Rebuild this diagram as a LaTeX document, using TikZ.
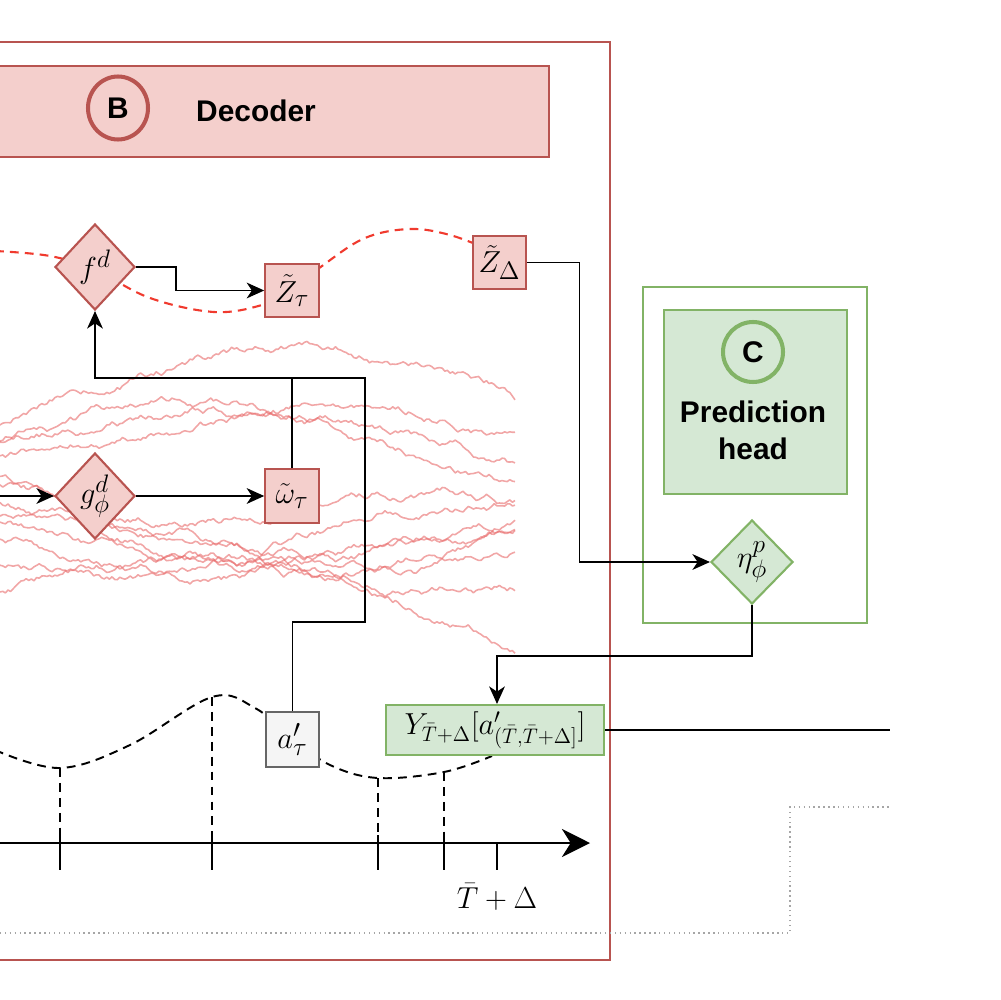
\documentclass[tikz,border=0pt]{standalone}
\usepackage{fontspec}
\newfontfamily\arialf{Liberation Sans}
\usetikzlibrary{shapes.geometric,arrows.meta}
\definecolor{rfill}{HTML}{F4CFCC}
\definecolor{rdraw}{HTML}{B85450}
\definecolor{gfill}{HTML}{D5E8D4}
\definecolor{gdraw}{HTML}{82B366}
\definecolor{noisec}{HTML}{E86A6A}
\definecolor{rdash}{HTML}{F03A2E}
\definecolor{agrey}{HTML}{F5F5F5}
\definecolor{adraw}{HTML}{666666}
\begin{document}
\begin{tikzpicture}[x=0.02cm,y=-0.02cm,
  mfont/.style={font=\fontsize{17}{20}\selectfont},
  nfont/.style={font=\fontsize{19}{22}\selectfont},
  bfont/.style={font=\arialf\bfseries\fontsize{17}{21}\selectfont},
  rbox/.style={draw=rdraw, fill=rfill, line width=1.2pt, minimum width=1.07cm, minimum height=1.07cm, inner sep=0pt, nfont},
  rdiam/.style={diamond, draw=rdraw, fill=rfill, line width=1.2pt, minimum width=1.6cm, minimum height=1.72cm, inner sep=0pt, nfont},
  gdiam/.style={diamond, draw=gdraw, fill=gfill, line width=1.2pt, minimum width=1.64cm, minimum height=1.68cm, inner sep=0pt, nfont},
  conn/.style={line width=0.75pt, -{Stealth[length=10pt,width=9pt,inset=3pt]}},
  plain/.style={line width=0.75pt},
  noise/.style={draw=noisec, opacity=0.6, line width=0.9pt, line join=round},
  rdashed/.style={draw=rdash, line width=1.2pt, dash pattern=on 5pt off 3.5pt},
  kdashed/.style={draw=black, line width=1.1pt, dash pattern=on 5pt off 3.5pt},
]
\useasboundingbox (0,0) rectangle (1000,1000);
\pgfmathsetseed{4242}

% outer decoder frame
\draw[rdraw, line width=1.2pt] (-10,42) rectangle (610,960);
% header
\draw[rdraw, fill=rfill, line width=1.2pt] (-10,66) rectangle (549,157);
\node[draw=rdraw, line width=2.3pt, ellipse, minimum width=1.2cm, minimum height=1.26cm, inner sep=0pt, bfont] (cb) at (118,108) {B};
\node[bfont] (dec) at (256,111) {Decoder};

% dotted gray line
\draw[gray!70, line width=0.8pt, dotted] (-10,933) -- (790,933) -- (790,807) -- (890,807);

% noisy paths (random walks around a slow trend)
\foreach \ys/\A/\f/\p in {425/-80/0.3/0, 445/30/0.5/180, 440/-40/0.35/0, 478/20/0.6/0, 482/-25/0.4/90, 510/30/0.3/0, 525/35/0.35/0, 540/25/0.5/0, 590/25/0.45/180, 565/20/0.4/0, 500/40/0.3/0, 455/-50/0.25/0} {
  \draw[noise] (-5,\ys) \foreach \i in {1,...,200} { -- ++(2.6,{\A*(sin(\f*\i*2.6+\p)-sin(\f*(\i-1)*2.6+\p))+2.8*rand}) };
}

% red dashed latent curve
\draw[rdashed] plot[smooth, tension=0.6] coordinates {(-5,251) (50,256) (95,270) (150,298) (214,312) (262,305) (292,290) (322,266) (365,238) (410,229) (450,235) (490,250)};

% black dashed curve
\draw[kdashed] plot[smooth, tension=0.6] coordinates {(-5,750) (60,768) (130,745) (212,697) (255,708) (292,738) (330,765) (378,778) (444,772) (492,756)};
\draw[kdashed] (60,768) -- (60,835);
\draw[kdashed] (212,697) -- (212,835);
\draw[kdashed] (378,778) -- (378,835);
\draw[kdashed] (444,772) -- (444,835);

% time axis
\coordinate (ax0) at (-5,843);
\coordinate (ax1) at (590,843);
\draw[line width=1.2pt, -{Stealth[length=16pt,width=16pt,inset=5pt]}] (ax0) -- (ax1);
\foreach \tx in {60,212,378,444} \draw[line width=1.2pt] (\tx,835) -- (\tx,870);
\draw[line width=1.2pt] (497,843) -- (497,870);
\node[mfont] (tl) at (497,897) {$\bar T+\Delta$};

% decoder nodes
\node[rdiam] (fd) at (95,267) {$f^d$};
\node[rbox] (zt) at (292,290.5) {$\tilde Z_\tau$};
\node[rbox] (zd) at (499.5,262.5) {$\tilde Z_\Delta$};
\node[rdiam] (gd) at (95,496) {$g^d_\phi$};
\node[rbox] (om) at (292,496) {$\tilde\omega_\tau$};
\node[draw=adraw, fill=agrey, line width=1.2pt, minimum width=1.06cm, minimum height=1.1cm, inner sep=0pt, nfont] (ap) at (292.5,739.5) {$a'_\tau$};
\node[draw=gdraw, fill=gfill, line width=1.2pt, minimum width=4.36cm, minimum height=1cm, inner sep=0pt, font=\fontsize{18.5}{22}\selectfont] (yb) at (495,730) {$Y_{\bar T+\Delta}[a'_{(\bar T,\bar T+\Delta]}]$};

% prediction head
\draw[gdraw, line width=1.2pt] (643,287) rectangle (867,623);
\draw[gdraw, fill=gfill, line width=1.2pt] (664,310) rectangle (847,494);
\node[draw=gdraw, fill=gfill, line width=2.3pt, circle, minimum size=1.2cm, inner sep=0pt, bfont] (cc) at (753,352) {C};
\node[bfont, align=center] (ph) at (753,430) {Prediction\\head};
\node[gdiam] (eta) at (752,562) {$\eta^p_\phi$};

% connectors
\coordinate (gin) at (-5,496);
\draw[conn] (gin) -- (gd.west);
\draw[conn] (gd.east) -- (om.west);
\draw[conn] (fd.east) -- ++(40,0) |- (zt.west);
\coordinate (k1) at (365,622);
\coordinate (k2) at (365,378);
\draw[conn] (ap.north) |- (k1) -- (k2) -| (fd.south);
\draw[plain] (om.north) -- (om.north |- k2);
\draw[conn] (zd.east) -- ++(52,0) |- (eta.west);
\draw[conn] (eta.south) -- ++(0,51) -| ([xshift=0.04cm]yb.north);
\coordinate (yend) at (890,733);
\draw[plain] (yb.east) -- (yb.east -| yend);
\end{tikzpicture}
\end{document}
